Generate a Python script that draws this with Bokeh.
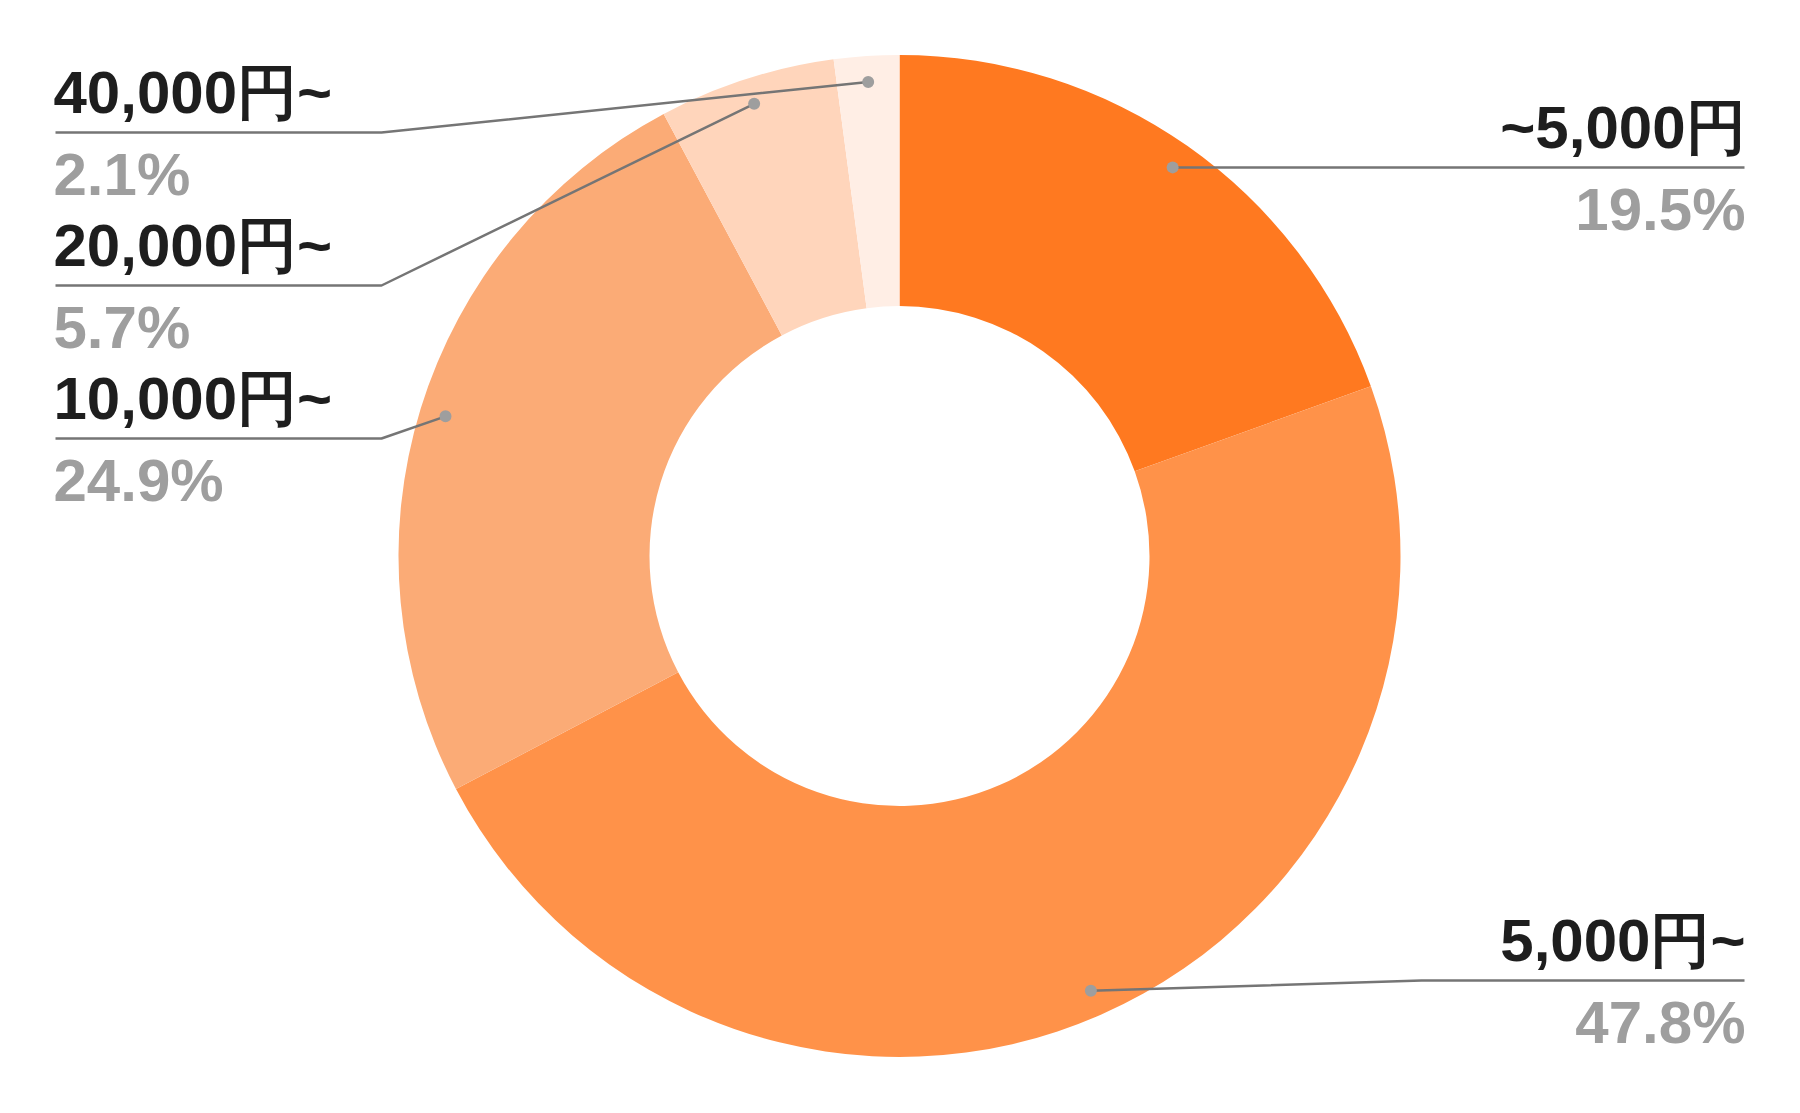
import math
from bokeh.plotting import figure
from bokeh.models import Range1d, ColumnDataSource
from bokeh.core.properties import value
from bokeh.embed import file_html
from bokeh.resources import INLINE

# ---- data ----
categories = ["~5,000円", "5,000円~", "10,000円~", "20,000円~", "40,000円~"]
shares = [19.5, 47.8, 24.9, 5.7, 2.1]
pct_labels = ["19.5%", "47.8%", "24.9%", "5.7%", "2.1%"]
colors = ["#FF7920", "#FF9249", "#FBAB76", "#FFD5BB", "#FFEEE5"]

# ---- layout (screen coords: y measured downward from page top, converted) ----
H = 1113
def Y(y):
    return H - y

cx, cy = 899, Y(555.5)
r_out, r_in, r_dot = 501, 250, 475

p = figure(width=1784, height=1097, output_backend="svg", toolbar_location=None,
           x_range=Range1d(0, 1784), y_range=Range1d(16, 1113), min_border=0)
p.axis.visible = False
p.grid.visible = False
p.outline_line_color = None
p.background_fill_color = "white"
p.border_fill_color = "white"

total = sum(shares)
starts, ends, mids = [], [], []
cum = 0.0
for s in shares:
    a0 = math.pi / 2 - cum / total * 2 * math.pi
    cum += s
    a1 = math.pi / 2 - cum / total * 2 * math.pi
    starts.append(a0)
    ends.append(a1)
    mids.append((a0 + a1) / 2)

src = ColumnDataSource(dict(start=starts, end=ends, color=colors))
p.annular_wedge(x=cx, y=cy, inner_radius=r_in, outer_radius=r_out,
                start_angle="start", end_angle="end", direction="clock",
                fill_color="color", line_color=None, source=src)

dot_x = [cx + r_dot * math.cos(a) for a in mids]
dot_y = [cy + r_dot * math.sin(a) for a in mids]

# label placement: (side, leader line y, elbow x)
left_x, right_x = 55, 1745
line_ys = [167, 980, 438, 285, 132]
sides = ["R", "R", "L", "L", "L"]
elbows = [None, 1421, 381, 381, 381]

font = value("Liberation Sans")
for i in range(len(categories)):
    ly = Y(line_ys[i])
    if sides[i] == "L":
        xs = [left_x, elbows[i], dot_x[i]]
        ys = [ly, ly, dot_y[i]]
        tx, align = left_x - 2, "left"
    else:
        ex = elbows[i] if elbows[i] is not None else dot_x[i]
        xs = [right_x - 1, ex, dot_x[i]]
        ys = [ly, ly, dot_y[i]]
        tx, align = right_x, "right"
    p.line(xs, ys, line_color="#757575", line_width=2.5)
    p.text(x=[tx], y=[ly + 40], text=[categories[i]], text_font=font,
           text_font_size="60px", text_font_style="bold", text_color="#1E1E1E",
           text_align=align, text_baseline="alphabetic")
    p.text(x=[tx], y=[ly - 42], text=[pct_labels[i]], text_font=font,
           text_font_size="60px", text_font_style="bold", text_color="#9E9E9E",
           text_align=align, text_baseline="alphabetic")

p.scatter(dot_x, dot_y, size=12, fill_color="#9E9E9E", line_color=None)

open("out.html", "w").write(file_html(p, INLINE))
